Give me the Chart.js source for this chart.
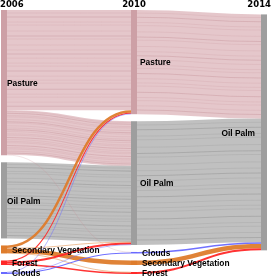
<!DOCTYPE html>
<html>
<head>
<meta charset="utf-8">
<script src="https://cdn.jsdelivr.net/npm/chart.js@4.4.1/dist/chart.umd.min.js"></script>
<style>
    html, body { margin: 0; padding: 0; background: #fff; }
</style>
</head>
<body>
<canvas id="chart" width="271" height="278"></canvas>
<script>
// data: land use per year (area units)
var years = ['2006', '2010', '2014'];
var nodes2006 = ['Pasture', 'Oil Palm', 'Secondary Vegetation', 'Forest', 'Clouds'];
var nodes2010 = ['Pasture', 'Oil Palm', 'Clouds', 'Secondary Vegetation', 'Forest'];
var nodes2014 = ['Oil Palm'];

// [from, to, area]
var flows2006to2010 = [
    ['Pasture', 'Pasture', 100],
    ['Pasture', 'Oil Palm', 44.5],
    ['Pasture', 'Clouds', 0.5],
    ['Oil Palm', 'Oil Palm', 76],
    ['Secondary Vegetation', 'Pasture', 2.5],
    ['Secondary Vegetation', 'Oil Palm', 0.5],
    ['Secondary Vegetation', 'Secondary Vegetation', 4.5],
    ['Secondary Vegetation', 'Forest', 0.5],
    ['Forest', 'Pasture', 1],
    ['Forest', 'Oil Palm', 2],
    ['Forest', 'Forest', 1.5],
    ['Clouds', 'Pasture', 0.5],
    ['Clouds', 'Oil Palm', 0.5],
    ['Clouds', 'Clouds', 1]
];
var flows2010to2014 = [
    ['Pasture', 'Oil Palm', 104],
    ['Oil Palm', 'Oil Palm', 123.5],
    ['Clouds', 'Oil Palm', 1.5],
    ['Secondary Vegetation', 'Oil Palm', 4.5],
    ['Forest', 'Oil Palm', 2]
];

// styles
var nodeColors = {
    'Pasture': 'rgb(205,160,166)',
    'Oil Palm': 'rgb(158,158,158)',
    'Secondary Vegetation': 'rgb(222,124,44)',
    'Forest': 'rgb(255,40,40)',
    'Clouds': 'rgb(105,105,255)'
};
var linkColors = {
    'Pasture': 'rgba(200,138,146,0.48)',
    'Oil Palm': 'rgba(140,140,140,0.55)',
    'Secondary Vegetation': 'rgba(222,124,44,0.95)',
    'Forest': 'rgba(255,40,40,0.95)',
    'Clouds': 'rgba(105,105,255,0.95)'
};
var stripeColors = {
    'Pasture': 'rgba(170,100,110,0.22)',
    'Oil Palm': 'rgba(90,90,90,0.22)'
};
var stripeAt = [0.03, 0.07, 0.12, 0.15, 0.21, 0.26, 0.29, 0.35, 0.4, 0.44, 0.48, 0.53, 0.56,
    0.61, 0.66, 0.7, 0.73, 0.79, 0.84, 0.87, 0.92, 0.96];
var gap = 7;
var nodeWidth = 6;

// layout
function buildSankey() {
    var columns = [nodes2006, nodes2010, nodes2014].map(function (names, col) {
        return names.map(function (name, i) {
            return { name: name, col: col, index: i, inLinks: [], outLinks: [] };
        });
    });

    var links = [];
    [flows2006to2010, flows2010to2014].forEach(function (flows, col) {
        flows.forEach(function (f) {
            var source = columns[col].filter(function (n) { return n.name === f[0]; })[0];
            var target = columns[col + 1].filter(function (n) { return n.name === f[1]; })[0];
            var link = { source: source, target: target, value: f[2] };
            source.outLinks.push(link);
            target.inLinks.push(link);
            links.push(link);
        });
    });

    function sum(list) {
        return list.reduce(function (a, l) { return a + l.value; }, 0);
    }

    columns.forEach(function (column) {
        column.forEach(function (n) {
            n.value = Math.max(sum(n.inLinks), sum(n.outLinks));
        });
    });

    // first two columns stacked from top
    var maxY = 0;
    columns.slice(0, 2).forEach(function (column) {
        var y = 0;
        column.forEach(function (n) {
            n.y0 = y;
            n.y1 = y + n.value;
            y = n.y1 + gap;
        });
        maxY = Math.max(maxY, y - gap);
    });

    // last column: centred on its sources
    columns[2].forEach(function (n) {
        var w = 0, c = 0;
        n.inLinks.forEach(function (l) {
            c += l.value * (l.source.y0 + l.source.y1) / 2;
            w += l.value;
        });
        var centre = c / w;
        n.y0 = centre - n.value / 2;
        n.y1 = centre + n.value / 2;
    });

    // link offsets
    columns.forEach(function (column) {
        column.forEach(function (n) {
            var y = n.y0;
            n.outLinks.slice().sort(function (a, b) { return a.target.index - b.target.index; })
                .forEach(function (l) { l.y0 = y; y += l.value; });
            y = n.y0;
            n.inLinks.slice().sort(function (a, b) { return a.source.index - b.source.index; })
                .forEach(function (l) { l.y1 = y; y += l.value; });
        });
    });

    return { columns: columns, links: links, maxY: maxY };
}

var sankey = buildSankey();

var sankeyPlugin = {
    id: 'sankey',
    afterDraw: function (chart) {
        var ctx = chart.ctx;
        var xs = chart.scales.x;
        var ys = chart.scales.y;
        var last = years.length - 1;

        function left(col) {
            return xs.getPixelForValue(col) - nodeWidth * col / last;
        }

        function ribbon(l, from, to) {
            var x0 = left(l.source.col) + nodeWidth;
            var x1 = left(l.target.col);
            var xm = (x0 + x1) / 2;
            var ya = ys.getPixelForValue(l.y0 + from);
            var yb = ys.getPixelForValue(l.y1 + from);
            ctx.beginPath();
            ctx.moveTo(x0, ya);
            ctx.bezierCurveTo(xm, ya, xm, yb, x1, yb);
            ctx.lineWidth = Math.abs(ys.getPixelForValue(to) - ys.getPixelForValue(0));
            ctx.stroke();
        }

        ctx.save();

        // links, wide ones first
        sankey.links.slice().sort(function (a, b) { return b.value - a.value; })
            .forEach(function (l) {
                ctx.strokeStyle = linkColors[l.source.name];
                ribbon(l, l.value / 2, l.value);
                if (stripeColors[l.source.name] && l.value > 20) {
                    ctx.strokeStyle = stripeColors[l.source.name];
                    stripeAt.forEach(function (f, i) {
                        ribbon(l, f * l.value, i % 4 === 1 ? 1 : 0.5);
                    });
                }
            });

        // nodes
        sankey.columns.forEach(function (column) {
            column.forEach(function (n) {
                var top = ys.getPixelForValue(n.y0);
                var bottom = ys.getPixelForValue(n.y1);
                ctx.fillStyle = nodeColors[n.name];
                ctx.fillRect(left(n.col), top, nodeWidth, Math.max(bottom - top, 1));
            });
        });

        // node labels
        ctx.fillStyle = '#000';
        ctx.font = 'bold 8.4px "Liberation Sans", Arial, sans-serif';
        ctx.textBaseline = 'middle';
        sankey.columns.forEach(function (column) {
            column.forEach(function (n) {
                var top = ys.getPixelForValue(n.y0);
                var bottom = ys.getPixelForValue(n.y1);
                var y = (top + bottom) / 2 + 1;
                if (n.col === last) {
                    ctx.textAlign = 'right';
                    ctx.fillText(n.name, left(n.col) - 6, y);
                } else {
                    ctx.textAlign = 'left';
                    var pad = bottom - top > 20 ? (n.col === 0 ? 0 : 3) : 5;
                    ctx.fillText(n.name, left(n.col) + nodeWidth + pad, y);
                }
            });
        });

        // year labels
        ctx.font = 'bold 8.5px "DejaVu Sans", sans-serif';
        years.forEach(function (year, col) {
            ctx.textAlign = col === 0 ? 'left' : (col === last ? 'right' : 'center');
            var x = col === 0 ? 0 : (col === last ? chart.width : left(col) + nodeWidth / 2);
            ctx.fillText(year, x, 5);
        });

        ctx.restore();
    }
};

window.onload = function () {
    new Chart(document.getElementById('chart'), {
        type: 'scatter',
        data: { datasets: [] },
        options: {
            responsive: false,
            animation: false,
            devicePixelRatio: 1,
            layout: { padding: { top: 10, left: 1, right: 4, bottom: 4 } },
            plugins: { legend: { display: false }, tooltip: { enabled: false } },
            scales: {
                x: { type: 'linear', min: 0, max: years.length - 1, display: false },
                y: { type: 'linear', min: 0, max: sankey.maxY, reverse: true, display: false }
            }
        },
        plugins: [sankeyPlugin]
    });
};
</script>
</body>
</html>
